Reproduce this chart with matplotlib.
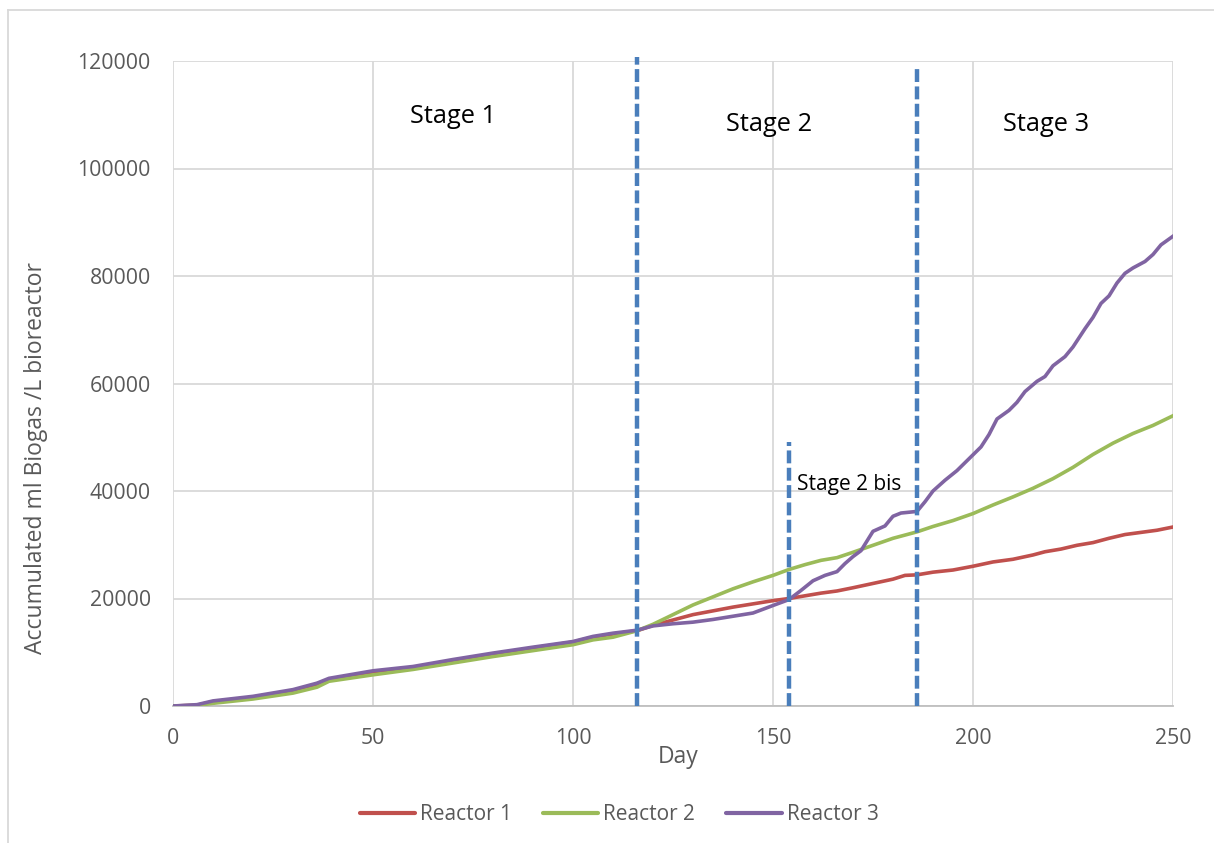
import matplotlib
matplotlib.use("Agg")
import matplotlib.pyplot as plt
from matplotlib.lines import Line2D

plt.rcParams['font.family'] = ['Open Sans', 'DejaVu Sans']

# Reactor 1
r1_days = [0, 6, 10, 20, 30, 36, 39, 50, 60, 70, 80, 90, 100, 105, 110, 116,
           120, 125, 130, 135, 140, 145, 150, 154, 158, 162, 166, 170, 175, 180,
           183, 186, 190, 195, 200, 205, 210, 215, 218, 222, 226, 230, 234, 238,
           242, 246, 250]
r1_vals = [0, 150, 800, 1650, 2850, 4000, 4900, 6300, 7150, 8450, 9650, 10800, 11900, 12800, 13400, 14000,
           15000, 16000, 17000, 17700, 18400, 19000, 19600, 20000, 20500, 21000, 21400, 22000, 22800, 23600,
           24300, 24400, 24900, 25300, 26000, 26800, 27300, 28100, 28700, 29200, 29900, 30400, 31200, 31900,
           32300, 32700, 33300]

# Reactor 2
r2_days = [0, 6, 10, 20, 30, 36, 39, 50, 60, 70, 80, 90, 100, 105, 110, 116,
           120, 125, 130, 135, 140, 145, 150, 154, 158, 162, 166, 170, 175, 180,
           186, 190, 195, 200, 205, 210, 215, 220, 225, 230, 235, 240, 245, 250]
r2_vals = [0, 100, 500, 1300, 2400, 3500, 4600, 5800, 6800, 8000, 9200, 10300, 11400, 12300, 12800, 14000,
           15200, 17000, 18800, 20300, 21800, 23100, 24300, 25400, 26300, 27100, 27600, 28600, 29900, 31200,
           32400, 33400, 34500, 35800, 37400, 38900, 40500, 42300, 44400, 46800, 48900, 50700, 52200, 54000]

# Reactor 3
r3_days = [0, 6, 10, 20, 30, 36, 39, 50, 60, 70, 80, 90, 100, 105, 110, 116,
           120, 125, 130, 135, 140, 145, 150, 154, 157, 160, 163, 166, 168, 170,
           172, 175, 178, 180, 182, 186, 188, 190, 193, 196, 199, 202, 204, 206,
           209, 211, 213, 216, 218, 220, 223, 225, 228, 230, 232, 234, 236, 238,
           240, 243, 245, 247, 250]
r3_vals = [0, 250, 950, 1800, 3050, 4250, 5150, 6550, 7350, 8650, 9850, 10950, 12000, 12950, 13550, 14100,
           14900, 15300, 15600, 16100, 16700, 17300, 18700, 19800, 21500, 23300, 24300, 25000, 26500, 27800,
           28900, 32500, 33500, 35300, 35900, 36200, 38000, 40000, 42000, 43800, 46000, 48200, 50500, 53400,
           55000, 56500, 58500, 60400, 61300, 63300, 65000, 66800, 70200, 72300, 74900, 76300, 78700, 80500,
           81500, 82700, 84000, 85800, 87400]

series_names = ["Reactor 1", "Reactor 2", "Reactor 3"]
series_colors = ["#C0504D", "#9BBB59", "#8064A2"]

# Stage boundaries (day, top of the marker line)
boundary_days = [116, 154, 186]
boundary_tops = [120800, 49100, 119300]

stage_labels = ["Stage 1", "Stage 2", "Stage 3", "Stage 2 bis"]
stage_label_x = [70, 149, 218.2, 169]
stage_label_y = [109600, 108100, 108100, 41300]

fig = plt.figure(figsize=(12.14, 8.43), dpi=100)
ax = fig.add_axes([173 / 1214, 1 - 706 / 843, 1000 / 1214, 645 / 843])

grid_color = "#d9d9d9"
tick_color = "#595959"

for d, v, name, c in zip([r1_days, r2_days, r3_days], [r1_vals, r2_vals, r3_vals],
                         series_names, series_colors):
    ax.plot(d, v, color=c, lw=2.6, label=name, solid_joinstyle="round", zorder=3)

for bd, bt in zip(boundary_days, boundary_tops):
    ax.plot([bd, bd], [0, bt], color="#4A7EBB", lw=3.2, dashes=(2.9, 1.0),
            clip_on=False, zorder=4)

for lab, lx, ly in zip(stage_labels[:3], stage_label_x[:3], stage_label_y[:3]):
    ax.text(lx, ly, lab, fontsize=18.3, color="black", ha="center", va="center")
ax.text(stage_label_x[3], stage_label_y[3], stage_labels[3], fontsize=15,
        color="black", ha="center", va="center")

ax.set_xlim(0, 250)
ax.set_ylim(0, 120000)
ax.set_xticks([0, 50, 100, 150, 200, 250])
ax.set_yticks(range(0, 120001, 20000))
ax.grid(True, color=grid_color, lw=1.3)
ax.set_axisbelow(True)
for s in ["top", "right", "left"]:
    ax.spines[s].set_visible(False)
ax.spines["bottom"].set_color("#bfbfbf")
ax.spines["bottom"].set_linewidth(1.3)
ax.tick_params(axis="both", length=0, labelsize=15.3, colors=tick_color)
ax.tick_params(axis="x", pad=16)
ax.tick_params(axis="y", pad=16)

fig.text(678 / 1214, 1 - 757 / 843, "Day", fontsize=16.5, color=tick_color,
         ha="center", va="center")
fig.text(36 / 1214, 1 - 458 / 843, "Accumulated ml Biogas /L bioreactor", fontsize=16.5,
         color=tick_color, ha="center", va="center", rotation=90)

handles = [Line2D([], [], color=c, lw=3, solid_capstyle="round") for c in series_colors]
fig.legend(handles, series_names, loc="center", bbox_to_anchor=(619 / 1214, 1 - 815 / 843),
           ncol=3, frameon=False, fontsize=15, handlelength=2.65, handletextpad=0.24,
           columnspacing=1.5, labelcolor=tick_color)

# Chart frame (left and top edges)
fig.add_artist(Line2D([8 / 1214, 8 / 1214], [0, 1 - 10 / 843], color="#d9d9d9", lw=1.3,
                      transform=fig.transFigure))
fig.add_artist(Line2D([8 / 1214, 1], [1 - 10 / 843, 1 - 10 / 843], color="#d9d9d9", lw=1.3,
                      transform=fig.transFigure))

fig.savefig("out.png", dpi=100)
